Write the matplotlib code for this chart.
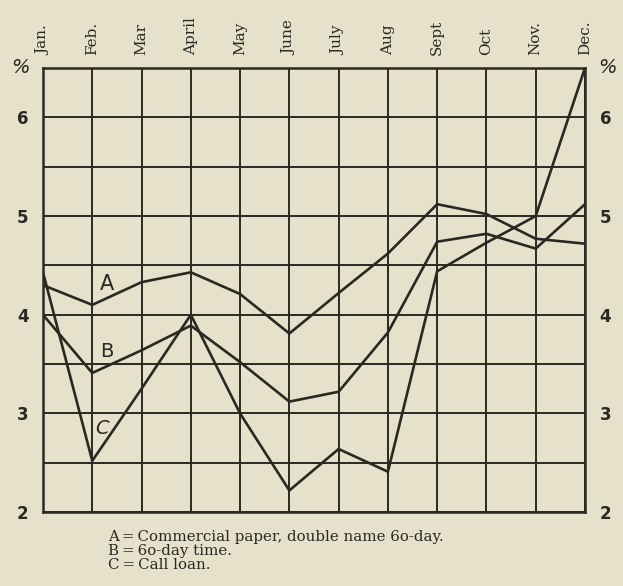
import matplotlib.pyplot as plt
import numpy as np

months = ["Jan.", "Feb.", "Mar", "April", "May", "June",
          "July", "Aug", "Sept", "Oct", "Nov.", "Dec."]

# monthly rates, per cent
commercial_paper = [4.30, 4.10, 4.33, 4.43, 4.21, 3.81,
                    4.22, 4.62, 5.12, 5.02, 4.77, 4.72]
sixty_day_time = [4.00, 3.41, 3.64, 3.89, 3.52, 3.12,
                  3.22, 3.82, 4.74, 4.82, 4.67, 5.12]
call_loan = [4.43, 2.52, 3.25, 4.00, 3.00, 2.22,
             2.64, 2.41, 4.44, 4.73, 5.00, 6.50]

key_lines = ["A\u2009=\u2009Commercial paper, double name 6o-day.",
             "B\u2009=\u20096o-day time.",
             "C\u2009=\u2009Call loan."]

paper = "#e5e1cb"
ink = "#2b2822"

fig = plt.figure(figsize=(6.23, 5.86), dpi=100, facecolor=paper)
ax = fig.add_axes([0.069, 0.126, 0.870, 0.758])
ax.set_facecolor(paper)

x = np.arange(len(months))
for series in (commercial_paper, sixty_day_time, call_loan):
    ax.plot(x, series, color=ink, lw=1.9, solid_joinstyle="miter", zorder=3)

ax.set_xlim(0, len(months) - 1)
ax.set_ylim(2, 6.5)

ax.set_xticks(x)
ax.set_xticklabels(months, rotation=90, family=["DejaVu Serif"], fontsize=11,
                   color=ink)
ax.xaxis.tick_top()
ax.set_yticks([2, 3, 4, 5, 6])
ax.set_yticks(np.arange(2.5, 6.5, 1.0), minor=True)
ax.set_yticklabels(["2", "3", "4", "5", "6"], fontsize=12, fontweight="bold",
                   color=ink)
ax.tick_params(axis="both", which="both", length=0)
ax.tick_params(axis="x", pad=9)
ax.tick_params(axis="y", pad=10.5, labelright=True)

ax.grid(True, which="both", color=ink, lw=1.4)
for s in ax.spines.values():
    s.set_color(ink)
    s.set_linewidth(1.8)

# percent signs at the top of both scales
ax.text(-0.025, 6.5, "%", transform=ax.get_yaxis_transform(), ha="right",
        va="center", fontsize=14, fontstyle="italic", color=ink)
ax.text(1.025, 6.5, "%", transform=ax.get_yaxis_transform(), ha="left",
        va="center", fontsize=14, fontstyle="italic", color=ink)

# curve letters
ax.text(1.3, 4.31, "A", fontsize=15, color=ink, ha="center", va="center")
ax.text(1.3, 3.63, "B", fontsize=14, color=ink, ha="center", va="center")
ax.text(1.2, 2.85, "C", fontsize=14, color=ink, ha="center", va="center",
        fontstyle="italic")

for i, line in enumerate(key_lines):
    fig.text(108 / 623, 1 - (537 + 14 * i) / 586, line, family=["DejaVu Serif"],
             fontsize=10.8, color=ink, ha="left", va="center")

fig.savefig("out.png", dpi=100, facecolor=paper)
